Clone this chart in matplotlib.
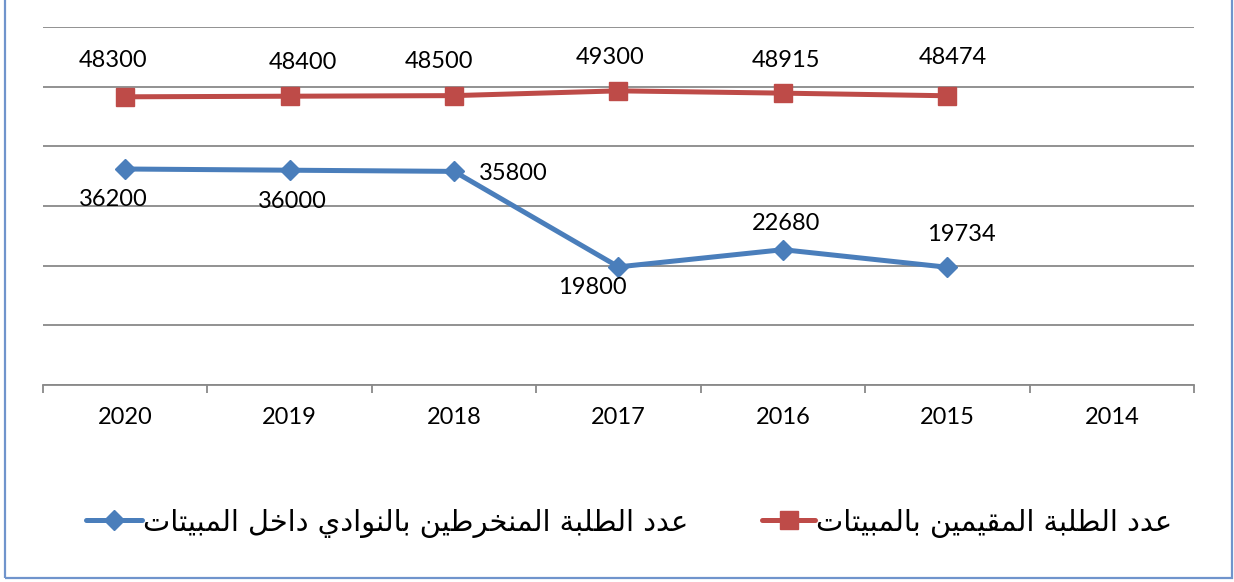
import numpy as np
import matplotlib
matplotlib.use("Agg")
import matplotlib.pyplot as plt
from matplotlib.lines import Line2D
from matplotlib.patches import Rectangle

# ---------------- data ----------------
years = ["2020", "2019", "2018", "2017", "2016", "2015", "2014"]
resident_students = [48300, 48400, 48500, 49300, 48915, 48474, np.nan]
club_students = [36200, 36000, 35800, 19800, 22680, 19734, np.nan]
label_resident = "عدد الطلبة المقيمين بالمبيتات"
label_clubs = "عدد الطلبة المنخرطين بالنوادي داخل المبيتات"

# label offsets in pixels (label centre relative to point, image y downward)
red_offsets = [(-12, -38), (13, -36), (-15, -36), (-8, -35), (3, -35), (5, -40)]
blue_offsets = [(-12, 28), (3, 29), (59, 0), (-26, 19), (3, -28), (14, -35)]

# ---------------- minimal Arabic shaping ----------------
FORMS = {
    "ا": ("\uFE8D", "\uFE8E", None, None),
    "ب": ("\uFE8F", "\uFE90", "\uFE91", "\uFE92"),
    "ة": ("\uFE93", "\uFE94", None, None),
    "ت": ("\uFE95", "\uFE96", "\uFE97", "\uFE98"),
    "خ": ("\uFEA5", "\uFEA6", "\uFEA7", "\uFEA8"),
    "د": ("\uFEA9", "\uFEAA", None, None),
    "ر": ("\uFEAD", "\uFEAE", None, None),
    "ط": ("\uFEC1", "\uFEC2", "\uFEC3", "\uFEC4"),
    "ع": ("\uFEC9", "\uFECA", "\uFECB", "\uFECC"),
    "ق": ("\uFED5", "\uFED6", "\uFED7", "\uFED8"),
    "ل": ("\uFEDD", "\uFEDE", "\uFEDF", "\uFEE0"),
    "م": ("\uFEE1", "\uFEE2", "\uFEE3", "\uFEE4"),
    "ن": ("\uFEE5", "\uFEE6", "\uFEE7", "\uFEE8"),
    "و": ("\uFEED", "\uFEEE", None, None),
    "ي": ("\uFEF1", "\uFEF2", "\uFEF3", "\uFEF4"),
}


def shape_arabic(s):
    out = []
    n = len(s)
    for i, c in enumerate(s):
        if c not in FORMS:
            out.append(c)
            continue
        f = FORMS[c]
        prev = s[i - 1] if i > 0 else ""
        nxt = s[i + 1] if i < n - 1 else ""
        jp = prev in FORMS and FORMS[prev][2] is not None
        jn = nxt in FORMS and f[2] is not None
        if jp and jn:
            out.append(f[3])
        elif jp:
            out.append(f[1])
        elif jn:
            out.append(f[2])
        else:
            out.append(f[0])
    return "".join(reversed(out))


# ---------------- style ----------------
W, H = 1234, 582
BLUE = "#4A7EBB"
RED = "#BE4B48"
GRID = "#898989"
BORDER = "#7094CC"
NUMFONT = "Lato"
NUMSIZE = 17

fig = plt.figure(figsize=(W / 100, H / 100), dpi=100)
fig.patch.set_facecolor("white")
ax = fig.add_axes([43 / W, 1 - 385 / H, 1151 / W, 358 / H])

x = np.arange(len(years))
ax.plot(x, club_students, color=BLUE, lw=3.6, marker="D", ms=10,
        solid_joinstyle="round", solid_capstyle="round", zorder=3)
ax.plot(x, resident_students, color=RED, lw=3.6, marker="s", ms=13.5,
        solid_joinstyle="round", solid_capstyle="round", zorder=3)

ax.set_xlim(-0.5, len(years) - 0.5)
ax.set_ylim(0, 60000)
ax.set_yticks(np.arange(0, 60001, 10000))
ax.yaxis.grid(True, color=GRID, lw=1.3)
ax.set_axisbelow(True)
ax.tick_params(axis="y", left=False, labelleft=False)
ax.set_xticks(x)
ax.set_xticklabels(years, fontfamily=NUMFONT, fontsize=NUMSIZE)
ax.set_xticks(np.arange(-0.5, len(years), 1), minor=True)
ax.tick_params(axis="x", which="major", length=0, pad=16)
ax.tick_params(axis="x", which="minor", length=6, width=1.3, color=GRID)
for s in ["left", "right", "top"]:
    ax.spines[s].set_visible(False)
ax.spines["bottom"].set_color(GRID)
ax.spines["bottom"].set_linewidth(1.3)

# data labels
DIGIT_HALF = 8.5
for i, (v, (dx, dy)) in enumerate(zip(resident_students, red_offsets)):
    ax.annotate(f"{int(v)}", (x[i], v), xytext=(dx, -(dy + DIGIT_HALF)),
                textcoords="offset pixels", ha="center", va="baseline",
                fontsize=NUMSIZE, family=NUMFONT, color="black", zorder=4)
for i, (v, (dx, dy)) in enumerate(zip(club_students, blue_offsets)):
    ax.annotate(f"{int(v)}", (x[i], v), xytext=(dx, -(dy + DIGIT_HALF)),
                textcoords="offset pixels", ha="center", va="baseline",
                fontsize=NUMSIZE, family=NUMFONT, color="black", zorder=4)

# border (top edge outside of the picture, as in the reference)
fig.add_artist(Rectangle((5 / W, 4 / H), (1232 - 5) / W, 2.0,
                         transform=fig.transFigure, fill=False,
                         edgecolor=BORDER, lw=1.6, clip_on=False))

# legend
txt_clubs = shape_arabic(label_clubs)
txt_res = shape_arabic(label_resident)
renderer = fig.canvas.get_renderer()
probe = fig.text(0, 0, txt_clubs, fontsize=20, family="DejaVu Sans")
wpx = probe.get_window_extent(renderer).width
probe.remove()
LEGSIZE = 20 * 545 / wpx
fs_px = LEGSIZE * 100 / 72

h_blue = Line2D([], [], color=BLUE, lw=3.6, marker="D", ms=10, solid_capstyle="round")
h_red = Line2D([], [], color=RED, lw=3.6, marker="s", ms=13.5, solid_capstyle="round")

for handle, text, xl, hl in [(h_blue, txt_clubs, 86, 56), (h_red, txt_res, 762, 53)]:
    fig.legend([handle], [text], loc="center left",
               bbox_to_anchor=(xl / W, 1 - 523 / H), frameon=False,
               borderpad=0, borderaxespad=0, handlelength=hl / fs_px,
               handletextpad=0.05, prop={"family": "DejaVu Sans", "size": LEGSIZE})

fig.savefig("out.png", dpi=100, facecolor="white")
